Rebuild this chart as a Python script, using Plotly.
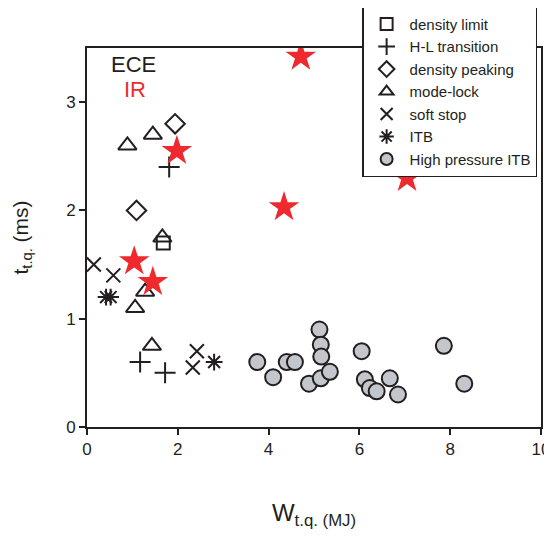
import plotly.graph_objects as go

# Data (W_tq in MJ, t_tq in ms)
dl_x = [1.68]
dl_y = [1.70]
hl_x = [1.81, 1.17, 1.72]
hl_y = [2.40, 0.60, 0.50]
dp_x = [1.94, 1.09]
dp_y = [2.80, 2.00]
ml_x = [0.89, 1.45, 1.66, 1.28, 1.06, 1.43]
ml_y = [2.60, 2.70, 1.75, 1.25, 1.10, 0.75]
ss_x = [0.15, 0.58, 2.42, 2.33]
ss_y = [1.50, 1.40, 0.70, 0.55]
itb_x = [0.42, 0.52, 2.80]
itb_y = [1.20, 1.20, 0.60]
hp_x = [3.75, 4.10, 4.40, 4.58, 5.12, 5.15, 5.16, 4.89, 5.15, 5.35,
        6.05, 6.12, 6.23, 6.38, 6.67, 6.85, 7.86, 8.31]
hp_y = [0.60, 0.46, 0.60, 0.60, 0.90, 0.76, 0.65, 0.40, 0.45, 0.51,
        0.70, 0.44, 0.36, 0.33, 0.45, 0.30, 0.75, 0.40]
ir_x = [4.71, 1.98, 4.34, 7.05, 1.04, 1.45]
ir_y = [3.42, 2.55, 2.03, 2.30, 1.53, 1.34]

dark = "#231f20"
red = "#ee2a2f"

fig = go.Figure()

def add(name, xs, ys, symbol, size, group):
    fig.add_trace(go.Scatter(
        x=xs, y=ys, mode="markers", name=name, legendgroup=group,
        marker=dict(symbol=symbol, size=size, color=dark,
                    line=dict(color=dark, width=2))))

add("density limit", dl_x, dl_y, "square-open", 13, "g1")
add("H-L transition", hl_x, hl_y, "cross-thin-open", 15, "g2")
add("density peaking", dp_x, dp_y, "diamond-open", 15, "g3")
add("mode-lock", ml_x, ml_y, "triangle-up-open", 16, "g4")
add("soft stop", ss_x, ss_y, "x-thin-open", 14, "g5")
add("ITB", itb_x, itb_y, "asterisk-open", 14, "g6")
fig.add_trace(go.Scatter(
    x=hp_x, y=hp_y, mode="markers", name="High pressure ITB", legendgroup="g7",
    marker=dict(symbol="circle", size=16, color="#c3c7cc",
                line=dict(color=dark, width=2))))
fig.add_trace(go.Scatter(
    x=ir_x, y=ir_y, mode="markers", name="IR", showlegend=False,
    marker=dict(symbol="star", size=23, color=red, line=dict(width=0))))

axis_common = dict(showline=True, linecolor=dark, linewidth=2, mirror=True,
                   ticks="outside", ticklen=6, tickwidth=1.5, tickcolor=dark,
                   showgrid=False, zeroline=False, automargin=False,
                   tickfont=dict(size=17, color=dark))

fig.update_xaxes(range=[0, 10], tickvals=[0, 2, 4, 6, 8, 10],
                 title=dict(text="W<sub>t.q. (MJ)</sub>", font=dict(size=24, color=dark), standoff=46),
                 **axis_common)
fig.update_yaxes(range=[0, 3.5], tickvals=[0, 1, 2, 3],
                 title=dict(text="t<sub>t.q.</sub> (ms)", font=dict(size=21, color=dark), standoff=32),
                 **axis_common)

fig.add_annotation(x=0.048, y=0.995, xref="paper", yref="paper", text="ECE",
                   showarrow=False, xanchor="left", yanchor="top",
                   font=dict(size=22, color=dark))
fig.add_annotation(x=0.077, y=0.929, xref="paper", yref="paper", text="IR",
                   showarrow=False, xanchor="left", yanchor="top",
                   font=dict(size=22, color=red))

fig.update_layout(
    width=544, height=529,
    margin=dict(l=79, r=11, t=40, b=110, autoexpand=False),
    paper_bgcolor="white", plot_bgcolor="white",
    font=dict(family="Liberation Sans, Arial, sans-serif", color=dark),
    legend=dict(x=0.606, y=1.11, xanchor="left", yanchor="top",
                bgcolor="white", bordercolor=dark, borderwidth=1.5,
                font=dict(size=15, color=dark), traceorder="grouped",
                tracegroupgap=0, itemwidth=36, itemsizing="constant"),
)

fig.write_html("out.html")
